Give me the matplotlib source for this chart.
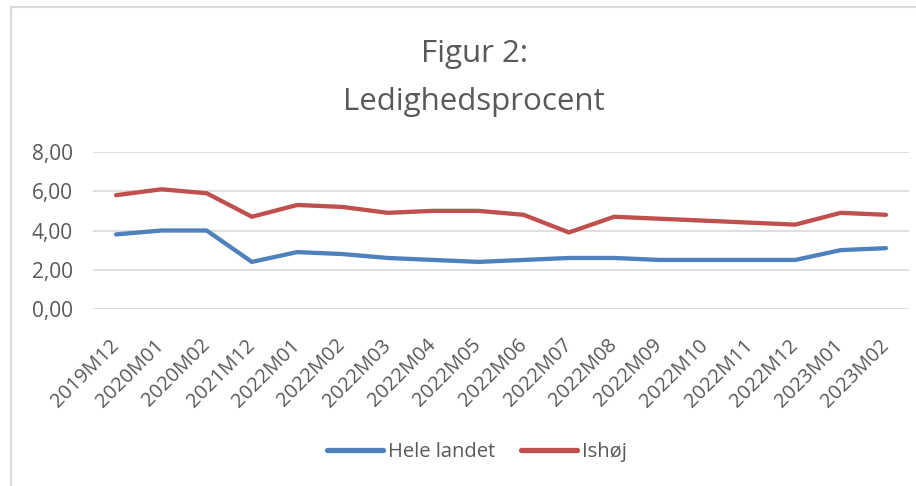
import matplotlib.pyplot as plt
from matplotlib.patches import Rectangle
from matplotlib.ticker import FuncFormatter

# Data
periods = ["2019M12", "2020M01", "2020M02", "2021M12", "2022M01", "2022M02",
           "2022M03", "2022M04", "2022M05", "2022M06", "2022M07", "2022M08",
           "2022M09", "2022M10", "2022M11", "2022M12", "2023M01", "2023M02"]
hele_landet = [3.8, 4.0, 4.0, 2.4, 2.9, 2.8, 2.6, 2.5, 2.4, 2.5, 2.6, 2.6,
               2.5, 2.5, 2.5, 2.5, 3.0, 3.1]
ishoej = [5.8, 6.1, 5.9, 4.7, 5.3, 5.2, 4.9, 5.0, 5.0, 4.8, 3.9, 4.7,
          4.6, 4.5, 4.4, 4.3, 4.9, 4.8]
yticks = [0, 2, 4, 6, 8]

W, H = 916, 486
FONT = "Open Sans"
TXT = "#595959"
BLUE = "#4F81BD"
RED = "#C0504D"

plt.rcParams['font.family'] = [FONT, 'DejaVu Sans']

fig = plt.figure(figsize=(W / 100, H / 100), dpi=100)
fig.patch.set_facecolor("white")

# chart-area border (cut off on the right and bottom in the reference)
fig.patches.append(Rectangle((11 / W, -0.1), 1.2, (H - 7) / H + 0.1,
                             transform=fig.transFigure, fill=False,
                             edgecolor="#D9D9D9", linewidth=1.5, zorder=0))

ax = fig.add_axes([93.4 / W, (H - 309) / H, (908.6 - 93.4) / W, (309 - 152) / H])
x = list(range(len(periods)))
ax.plot(x, hele_landet, color=BLUE, lw=3.1, solid_capstyle="round",
        solid_joinstyle="round", label="Hele landet")
ax.plot(x, ishoej, color=RED, lw=3.1, solid_capstyle="round",
        solid_joinstyle="round", label="Ishøj")

ax.set_xlim(-0.5, len(periods) - 0.5)
ax.set_ylim(0, 8)
ax.set_yticks(yticks)
ax.yaxis.set_major_formatter(FuncFormatter(lambda v, _: f"{v:.2f}".replace(".", ",")))
ax.set_xticks(x)
ax.set_xticklabels(periods, rotation=45, ha="right", va="center",
                   rotation_mode="anchor")
ax.tick_params(axis="y", length=0, pad=15, labelsize=15, labelcolor=TXT)
ax.tick_params(axis="x", length=0, pad=24, labelsize=14.5, labelcolor=TXT)
ax.grid(axis="y", color="#D9D9D9", lw=1.2)
ax.set_axisbelow(True)
for s in ax.spines.values():
    s.set_visible(False)

fig.text(474 / W, 1 - 54 / H, "Figur 2:", ha="center", va="center",
         fontsize=22.5, color=TXT)
fig.text(474 / W, 1 - 102 / H, "Ledighedsprocent", ha="center", va="center",
         fontsize=22.5, color=TXT)

leg = fig.legend(loc="center", bbox_to_anchor=(477 / W, 1 - 452 / H), ncol=2,
                 frameon=False, fontsize=14.5, handlelength=2.75,
                 handletextpad=0.25, columnspacing=1.3)
for t in leg.get_texts():
    t.set_color(TXT)
for l in leg.get_lines():
    l.set_linewidth(3.8)
    l.set_solid_capstyle("round")

fig.savefig("out.png", dpi=100)
